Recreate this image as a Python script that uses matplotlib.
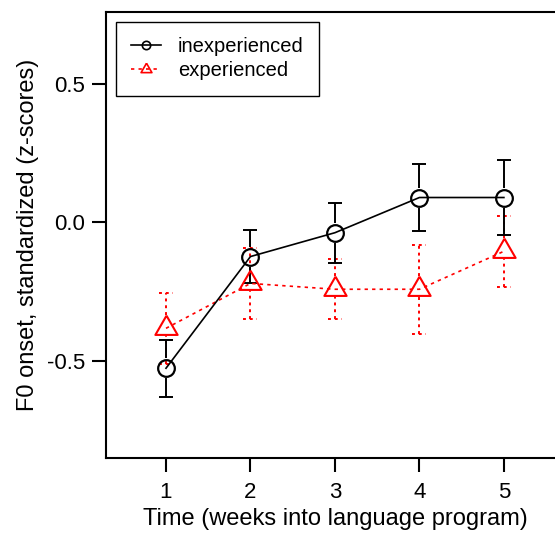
import numpy as np
import matplotlib
matplotlib.use("Agg")
import matplotlib.pyplot as plt
from matplotlib.lines import Line2D

plt.rcParams['font.family'] = ['Liberation Sans', 'DejaVu Sans']

# weeks into the program
weeks = [1, 2, 3, 4, 5]

# mean F0 onset (z-scores) and error per week
inexp_mean = [-0.526, -0.123, -0.037, 0.090, 0.090]
inexp_err = [0.103, 0.094, 0.108, 0.120, 0.136]

exp_mean = [-0.382, -0.220, -0.241, -0.241, -0.104]
exp_err = [0.129, 0.128, 0.108, 0.161, 0.128]

labels = ['inexperienced', 'experienced']
yticks = [-0.5, 0.0, 0.5]

# triangle with its centroid at the origin, so the line meets the centre
tri = [(0, 1), (-0.866, -0.5), (0.866, -0.5), (0, 1)]

fig = plt.figure(figsize=(5.55, 5.37), dpi=100)
ax = fig.add_axes([0.191, 0.147, 0.825, 0.830])

ax.set_xlim(0.29, 5.71)
ax.set_ylim(-0.850, 0.758)

# px per data unit, used to keep error stems outside the hollow markers
px_x = 84.5
px_y = 277.0
cap_hw = 7.0 / px_x


def draw_err(x, y, err, gap_up, gap_dn, color, ls):
    for xi, yi, ei in zip(x, y, err):
        ax.vlines(xi, yi + gap_up, yi + ei, color=color, lw=1.4, linestyles=ls, zorder=2)
        ax.vlines(xi, yi - ei, yi - gap_dn, color=color, lw=1.4, linestyles=ls, zorder=2)
        ax.hlines([yi + ei, yi - ei], xi - cap_hw, xi + cap_hw, color=color, lw=1.4,
                  linestyles=ls, zorder=2)


draw_err(weeks, exp_mean, exp_err, 13.5 / px_y, 7.5 / px_y, 'red', (0, (1.5, 2.0)))
draw_err(weeks, inexp_mean, inexp_err, 10 / px_y, 10 / px_y, 'black', 'solid')

ax.plot(weeks, exp_mean, color='red', lw=1.2, dashes=(2.0, 2.5), marker=tri,
        ms=18.5, mfc='none', mec='red', mew=1.5, zorder=3)
ax.plot(weeks, inexp_mean, color='black', lw=1.2, marker='o',
        ms=12, mfc='none', mec='black', mew=1.6, zorder=4)

ax.set_xticks(weeks)
ax.set_yticks(yticks)
ax.set_yticklabels(['%.1f' % v for v in yticks])

for side in ['left', 'bottom', 'top']:
    ax.spines[side].set_linewidth(1.5)
ax.spines['right'].set_visible(False)
ax.tick_params(axis='both', direction='out', length=10, width=1.5, labelsize=16)
ax.tick_params(axis='x', pad=7)
ax.tick_params(axis='y', pad=5)

ax.set_xlabel('Time (weeks into language program)', fontsize=17, labelpad=4)
ax.set_ylabel('F0 onset, standardized (z-scores)', fontsize=17, labelpad=6)

handles = [
    Line2D([], [], color='black', lw=1.2, marker='o', ms=6, mfc='none', mew=1.2),
    Line2D([], [], color='red', lw=1.2, dashes=(2.0, 2.5), marker=tri, ms=9,
           mfc='none', mec='red', mew=1.2),
]
leg = ax.legend(handles, labels, loc='upper left', bbox_to_anchor=(0.021, 0.979),
                borderaxespad=0, fontsize=14.5, handlelength=1.5, handletextpad=0.85,
                labelspacing=0.28, borderpad=0.75, fancybox=False, framealpha=1)
leg.get_frame().set_edgecolor('black')
leg.get_frame().set_linewidth(1.0)

fig.savefig('out.png', dpi=100)
